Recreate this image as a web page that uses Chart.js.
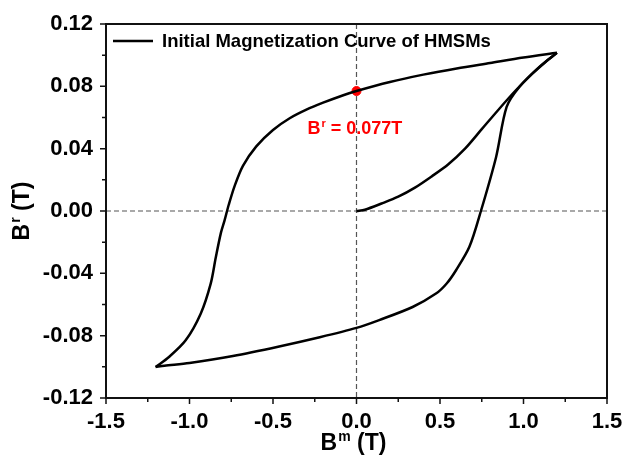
<!DOCTYPE html>
<html>
<head>
<meta charset="utf-8">
<script src="https://cdn.jsdelivr.net/npm/chart.js@4.4.1/dist/chart.umd.min.js"></script>
<style>
  html, body { margin: 0; padding: 0; background: #fff; }
  #wrap { width: 624px; height: 458px; }
</style>
</head>
<body>
<div id="wrap"><canvas id="loop" width="624" height="458"></canvas></div>
<script>
// upper branch, going from +Bm tip down to -Bm tip
const upperX = [1.2, 1.0, 0.8, 0.6, 0.4, 0.2, 0, -0.1, -0.2, -0.3, -0.4, -0.5, -0.6, -0.68, -0.73, -0.765, -0.79, -0.813, -0.843, -0.873, -0.933, -1.023, -1.123, -1.203];
const upperY = [0.1015, 0.0985, 0.0950, 0.0915, 0.0875, 0.0828, 0.077, 0.0735, 0.0695, 0.065, 0.0595, 0.052, 0.0415, 0.029, 0.016, 0.004, -0.006, -0.0145, -0.030, -0.0466, -0.0659, -0.083, -0.0937, -0.1001];
// lower branch, back up to the + tip
const lowerX = [-1.203, -1.15, -1.0, -0.74, -0.463, -0.22, 0, 0.136, 0.336, 0.476, 0.54, 0.596, 0.676, 0.745, 0.836, 0.899, 0.975, 1.095, 1.2];
const lowerY = [-0.1001, -0.0993, -0.0975, -0.093, -0.0869, -0.081, -0.075, -0.070, -0.0616, -0.053, -0.0465, -0.038, -0.023, 0, 0.0347, 0.0668, 0.0796, 0.0925, 0.1015];
// initial magnetization curve
const initX = [0, 0.05, 0.15, 0.25, 0.35, 0.45, 0.55, 0.65, 0.75, 0.85, 0.95, 1.05, 1.13, 1.2];
const initY = [0, 0.0008, 0.0048, 0.0092, 0.0150, 0.0222, 0.0300, 0.0400, 0.0525, 0.0650, 0.0770, 0.0878, 0.0955, 0.1015];
// remanence point
const remX = [0];
const remY = [0.077];

const xTicks = [-1.5, -1.0, -0.5, 0.0, 0.5, 1.0, 1.5];
const yTicks = [-0.12, -0.08, -0.04, 0.00, 0.04, 0.08, 0.12];
const legendLabel = "Initial Magnetization Curve of HMSMs";
const remLabel = " = 0.077T";

const FONT = 'Arial, "Liberation Sans", sans-serif';
const pts = (xs, ys) => xs.map((x, i) => ({ x: x, y: ys[i] }));

const line = (xs, ys) => ({
    data: pts(xs, ys),
    showLine: true,
    borderColor: "#000",
    borderWidth: 2.5,
    pointRadius: 0,
    tension: 0.3,
    fill: false
});

// draws text with a superscript letter after the first char
const supText = (ctx, base, sup, rest, x, y, size, color) => {
    ctx.fillStyle = color;
    ctx.textBaseline = "alphabetic";
    ctx.textAlign = "left";
    ctx.font = `bold ${size}px ${FONT}`;
    ctx.fillText(base, x, y);
    x += ctx.measureText(base).width + 1;
    ctx.font = `bold ${Math.round(size * 0.6)}px ${FONT}`;
    ctx.fillText(sup, x, y - size * 0.4);
    x += ctx.measureText(sup).width;
    ctx.font = `bold ${size}px ${FONT}`;
    ctx.fillText(rest, x, y);
};

const supWidth = (ctx, base, sup, rest, size) => {
    ctx.font = `bold ${size}px ${FONT}`;
    let w = ctx.measureText(base).width + ctx.measureText(rest).width + 1;
    ctx.font = `bold ${Math.round(size * 0.6)}px ${FONT}`;
    return w + ctx.measureText(sup).width;
};

const decor = {
    id: "decor",
    beforeDatasetsDraw(chart) {
        const { ctx, chartArea: a, scales: { x, y } } = chart;
        ctx.save();
        ctx.strokeStyle = "#555";
        ctx.lineWidth = 1.2;
        ctx.setLineDash([5, 3]);
        ctx.beginPath();
        ctx.moveTo(a.left, y.getPixelForValue(0));
        ctx.lineTo(a.right, y.getPixelForValue(0));
        ctx.moveTo(x.getPixelForValue(0), a.top);
        ctx.lineTo(x.getPixelForValue(0), a.bottom);
        ctx.stroke();
        ctx.restore();
    },
    afterDraw(chart) {
        const { ctx, chartArea: a, scales: { x, y } } = chart;
        ctx.save();
        // frame
        ctx.strokeStyle = "#111";
        ctx.lineWidth = 2;
        ctx.strokeRect(a.left, a.top, a.right - a.left, a.bottom - a.top);

        // ticks, major + minor, outward on left and bottom
        ctx.lineWidth = 1.5;
        ctx.beginPath();
        for (let i = 0; i < xTicks.length; i++) {
            const px = x.getPixelForValue(xTicks[i]);
            ctx.moveTo(px, a.bottom);
            ctx.lineTo(px, a.bottom + 6);
            if (i < xTicks.length - 1) {
                const mx = x.getPixelForValue((xTicks[i] + xTicks[i + 1]) / 2);
                ctx.moveTo(mx, a.bottom);
                ctx.lineTo(mx, a.bottom + 4);
            }
        }
        for (let i = 0; i < yTicks.length; i++) {
            const py = y.getPixelForValue(yTicks[i]);
            ctx.moveTo(a.left, py);
            ctx.lineTo(a.left - 6, py);
            if (i < yTicks.length - 1) {
                const my = y.getPixelForValue((yTicks[i] + yTicks[i + 1]) / 2);
                ctx.moveTo(a.left, my);
                ctx.lineTo(a.left - 4, my);
            }
        }
        ctx.stroke();

        // legend
        ctx.strokeStyle = "#000";
        ctx.lineWidth = 2.5;
        ctx.beginPath();
        ctx.moveTo(a.left + 7, a.top + 17);
        ctx.lineTo(a.left + 47, a.top + 17);
        ctx.stroke();
        ctx.fillStyle = "#000";
        ctx.font = `bold 18.5px ${FONT}`;
        ctx.textBaseline = "middle";
        ctx.textAlign = "left";
        ctx.fillText(legendLabel, a.left + 56, a.top + 18);

        // remanence label
        supText(ctx, "B", "r", remLabel, x.getPixelForValue(0) - 49, y.getPixelForValue(remY[0]) + 43, 18, "#ff0000");

        // x title
        const xw = supWidth(ctx, "B", "m", " (T)", 23);
        supText(ctx, "B", "m", " (T)", x.getPixelForValue(0) - 3 - xw / 2, 450, 23, "#000");

        // y title
        ctx.translate(29, (a.top + a.bottom) / 2);
        ctx.rotate(-Math.PI / 2);
        const yw = supWidth(ctx, "B", "r", " (T)", 23);
        supText(ctx, "B", "r", " (T)", -yw / 2, 0, 23, "#000");
        ctx.restore();
    }
};

new Chart(document.getElementById("loop"), {
    type: "scatter",
    data: {
        datasets: [
            line(upperX, upperY),
            line(lowerX, lowerY),
            line(initX, initY),
            {
                data: pts(remX, remY),
                pointRadius: 4.5,
                pointBackgroundColor: "#ff0000",
                pointBorderColor: "#ff0000",
                showLine: false
            }
        ]
    },
    options: {
        responsive: false,
        animation: false,
        layout: { padding: { top: 24, right: 17, left: 0, bottom: 0 } },
        plugins: {
            legend: { display: false },
            tooltip: { enabled: false }
        },
        scales: {
            x: {
                type: "linear",
                min: -1.5,
                max: 1.5,
                grid: { display: false, drawTicks: false },
                border: { display: false },
                afterFit: s => { s.height = 60; s.paddingLeft = 0; s.paddingRight = 0; },
                afterBuildTicks: s => { s.ticks = xTicks.map(v => ({ value: v })); },
                ticks: {
                    padding: 11,
                    color: "#000",
                    maxRotation: 0,
                    autoSkip: false,
                    font: { family: FONT, size: 22, weight: "bold" },
                    callback: v => v.toFixed(1)
                }
            },
            y: {
                type: "linear",
                min: -0.12,
                max: 0.12,
                grid: { display: false, drawTicks: false },
                border: { display: false },
                afterFit: s => { s.width = 106; s.paddingTop = 0; s.paddingBottom = 0; },
                afterBuildTicks: s => { s.ticks = yTicks.map(v => ({ value: v })); },
                ticks: {
                    padding: 13,
                    color: "#000",
                    autoSkip: false,
                    font: { family: FONT, size: 22, weight: "bold" },
                    callback: v => v.toFixed(2)
                }
            }
        }
    },
    plugins: [decor]
});
</script>
</body>
</html>
